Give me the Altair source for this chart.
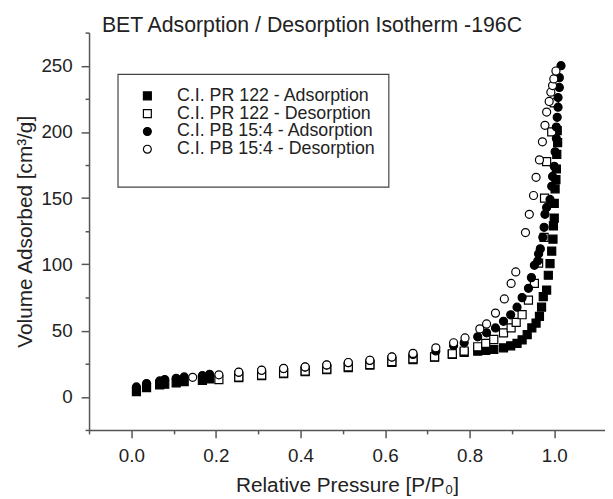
import altair as alt
import pandas as pd

# ---------------- data ----------------
series_names = [
    "C.I. PR 122 - Adsorption",
    "C.I. PR 122 - Desorption",
    "C.I. PB 15:4 - Adsorption",
    "C.I. PB 15:4 - Desorption",
]

pr_ads_x = [0.012, 0.036, 0.067, 0.079, 0.106, 0.125, 0.168, 0.185, 0.254, 0.308, 0.360,
            0.411, 0.462, 0.513, 0.564, 0.616, 0.666, 0.717, 0.759, 0.787, 0.819, 0.838,
            0.857, 0.880, 0.897, 0.912, 0.924, 0.936, 0.947, 0.957, 0.965, 0.970, 0.974,
            0.982, 0.986, 0.990, 0.994, 0.997, 0.998, 1.000, 1.000, 1.002, 1.004, 1.005,
            1.006, 1.008, 1.007]
pr_ads_y = [4.0, 7.0, 9.0, 9.5, 10.5, 11.5, 12.5, 13.5, 14.5, 16.0, 17.5,
            19.0, 20.5, 22.0, 24.0, 26.0, 28.0, 30.0, 32.0, 33.5, 34.5, 35.0,
            35.8, 37.0, 38.5, 40.3, 43.0, 47.0, 52.0, 55.7, 60.7, 67.7, 75.6,
            80.6, 91.8, 100.5, 110.0, 119.0, 129.0, 135.0, 146.0, 157.0, 164.0, 172.0,
            183.0, 192.0, 201.0]

pr_des_x = [0.207, 0.254, 0.308, 0.360, 0.411, 0.462, 0.513, 0.564, 0.616, 0.666, 0.717,
            0.759, 0.787, 0.819, 0.838, 0.857, 0.880, 0.898, 0.910, 0.924, 0.939, 0.953,
            0.963, 0.976, 0.977, 0.982, 0.994, 1.000]
pr_des_y = [13.0, 15.0, 16.4, 17.9, 19.4, 20.9, 22.6, 24.4, 26.6, 28.7, 30.2,
            32.5, 34.6, 37.8, 40.3, 43.3, 48.3, 52.0, 56.2, 62.0, 73.0, 85.6,
            101.0, 120.4, 150.0, 177.6, 200.0, 222.0]

pb_ads_x = [0.012, 0.036, 0.067, 0.079, 0.106, 0.125, 0.168, 0.185, 0.254, 0.308, 0.360,
            0.411, 0.462, 0.513, 0.564, 0.616, 0.666, 0.720, 0.762, 0.787, 0.819, 0.840,
            0.861, 0.880, 0.897, 0.912, 0.924, 0.939, 0.946, 0.953, 0.961, 0.963, 0.967,
            0.973, 0.976, 0.978, 0.982, 0.990, 0.994, 0.996, 1.000, 1.002, 1.005, 1.005,
            1.007, 1.009, 1.009, 1.012, 1.012, 1.016]
pb_ads_y = [7.5, 10.0, 12.0, 13.0, 14.0, 15.0, 16.0, 17.0, 18.5, 20.0, 21.3,
            22.5, 24.0, 25.8, 27.5, 30.0, 32.0, 34.6, 38.8, 40.8, 45.3, 48.3,
            52.0, 57.0, 61.9, 67.7, 74.9, 81.9, 90.0, 99.3, 102.5, 108.0, 111.7,
            120.4, 128.0, 137.8, 143.0, 149.0, 159.0, 166.4, 174.0, 185.0, 195.0, 203.7,
            211.0, 218.7, 226.0, 233.6, 241.0, 250.0]

pb_des_x = [0.145, 0.207, 0.254, 0.308, 0.360, 0.411, 0.462, 0.513, 0.564, 0.616, 0.666,
            0.720, 0.762, 0.789, 0.824, 0.840, 0.861, 0.882, 0.898, 0.909, 0.932, 0.941,
            0.951, 0.957, 0.965, 0.972, 0.978, 0.982, 0.988, 0.992, 0.996, 0.999, 1.004]
pb_des_y = [14.7, 16.6, 18.6, 20.1, 21.4, 22.6, 24.1, 25.9, 27.6, 30.1, 32.8,
            37.0, 40.8, 44.5, 51.3, 55.0, 63.2, 73.9, 85.6, 94.3, 124.0, 137.8,
            152.0, 165.7, 178.9, 192.5, 205.0, 215.0, 223.0, 230.0, 235.0, 240.0, 246.0]

x_tick_values = [-0.1, 0.0, 0.1, 0.2, 0.3, 0.4, 0.5, 0.6, 0.7, 0.8, 0.9, 1.0]
y_tick_values = [-25, 0, 25, 50, 75, 100, 125, 150, 175, 200, 225, 250, 275]

# ---------------- table ----------------
frames = []
for name, xs, ys in [
    (series_names[0], pr_ads_x, pr_ads_y),
    (series_names[1], pr_des_x, pr_des_y),
    (series_names[2], pb_ads_x, pb_ads_y),
    (series_names[3], pb_des_x, pb_des_y),
]:
    frames.append(pd.DataFrame({"p": xs, "v": ys, "series": name}))
df = pd.concat(frames, ignore_index=True)

FONT = "Liberation Sans"
AXIS_COLOR = "#555555"

legend = alt.Legend(
    title=" ",
    titleOrient="bottom",
    titleFontSize=13,
    titlePadding=3,
    orient="none",
    legendX=29,
    legendY=42,
    strokeColor="#444444",
    fillColor="white",
    padding=13,
    symbolOffset=8,
    symbolSize=64,
    symbolStrokeWidth=1.2,
    labelFont=FONT,
    labelFontSize=18,
    labelColor="#222222",
    labelOffset=21,
    labelLimit=400,
    labelExpr="datum.label + '\u00a0\u00a0\u00a0'",
    rowPadding=0,
)

major_x = "abs(datum.value*5 - round(datum.value*5)) < 0.001"
major_y = "datum.value % 50 == 0"

chart = (
    alt.Chart(df)
    .mark_point(filled=True, size=66, strokeWidth=1.2, opacity=1)
    .encode(
        x=alt.X(
            "p:Q",
            scale=alt.Scale(domain=[-0.1, 1.12], nice=False, zero=False),
            axis=alt.Axis(
                title="Relative Pressure [P/P₀]",
                values=x_tick_values,
                labelExpr=f"({major_x}) && datum.value > -0.05 ? format(datum.value, '.1f') : ''",
                tickSize={"condition": {"test": major_x, "value": 8}, "value": 4},
                grid=False,
                domainColor=AXIS_COLOR,
                tickColor=AXIS_COLOR,
                domainWidth=1.5,
                tickWidth=1.5,
                labelFont=FONT,
                labelFontSize=19,
                labelColor="#222222",
                labelPadding=9,
                titleFont=FONT,
                titleFontSize=21,
                titleFontWeight="normal",
                titleColor="#222222",
                titlePadding=9,
            ),
        ),
        y=alt.Y(
            "v:Q",
            scale=alt.Scale(domain=[-25, 275], nice=False, zero=False),
            axis=alt.Axis(
                title="Volume Adsorbed [cm³/g]",
                values=y_tick_values,
                labelExpr=f"({major_y}) && datum.value >= 0 && datum.value <= 250 ? format(datum.value, 'd') : ''",
                tickSize={"condition": {"test": major_y, "value": 8}, "value": 4},
                grid=False,
                domainColor=AXIS_COLOR,
                tickColor=AXIS_COLOR,
                domainWidth=1.5,
                tickWidth=1.5,
                labelFont=FONT,
                labelFontSize=19,
                labelColor="#222222",
                labelPadding=9,
                titleFont=FONT,
                titleFontSize=21,
                titleFontWeight="normal",
                titleColor="#222222",
                titlePadding=6,
            ),
        ),
        shape=alt.Shape(
            "series:N",
            scale=alt.Scale(domain=series_names, range=["square", "square", "circle", "circle"]),
            legend=legend,
        ),
        fill=alt.Fill(
            "series:N",
            scale=alt.Scale(domain=series_names, range=["black", "white", "black", "white"]),
            legend=legend,
        ),
        stroke=alt.Stroke(
            "series:N",
            scale=alt.Scale(domain=series_names, range=["black", "black", "black", "black"]),
            legend=legend,
        ),
    )
    .properties(
        width=522,
        height=402,
        autosize="none",
        padding={"left": 82, "top": 22, "right": 0, "bottom": 68},
        title=alt.Title(
            "BET Adsorption / Desorption Isotherm -196C",
            anchor="start",
            frame="group",
            font=FONT,
            fontSize=21.5,
            fontWeight="normal",
            color="#222222",
            offset=0,
            baseline="alphabetic",
            dx=13,
            dy=22,
        ),
    )
    .configure_view(stroke=None)
    .configure_legend(strokeWidth=1.2)
)

chart.save("out.html", embed_options={"renderer": "svg", "actions": False})
